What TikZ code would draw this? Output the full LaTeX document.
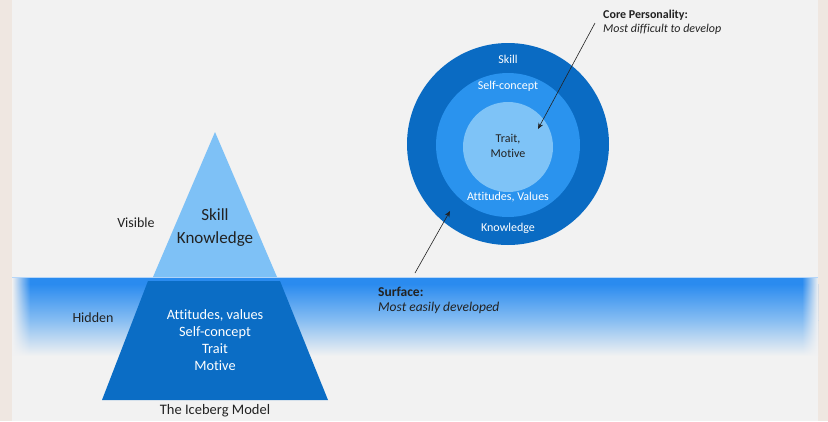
\documentclass[tikz,border=0pt]{standalone}
\usepackage{fontspec}
\setmainfont[Ligatures={NoCommon}]{Carlito}
\usetikzlibrary{fadings,arrows.meta}

\definecolor{bg}{HTML}{F2F2F2}
\definecolor{edgetone}{HTML}{EFE7E1}
\definecolor{seatop}{HTML}{2A8BEF}
\definecolor{seamid}{HTML}{86BDF2}
\definecolor{icelight}{HTML}{7EC1F6}
\definecolor{icedeep}{HTML}{0B6DC5}
\definecolor{ringout}{HTML}{0A6BC3}
\definecolor{ringmid}{HTML}{2A93EE}
\definecolor{ringin}{HTML}{7EC3F7}
\definecolor{ink}{HTML}{222222}

\tikzset{
  x=1pt, y=-1pt,
  label/.style={text=ink, font=\fontsize{14}{17}\selectfont, align=center, inner sep=0pt},
  icetext/.style={text=white, align=center, inner sep=0pt},
  ringtext/.style={text=white, font=\fontsize{12}{14}\selectfont, inner sep=0pt},
  pointer/.style={draw=ink, line width=0.6pt, -{Stealth[length=6pt,width=5pt]}},
}

\begin{document}
\begin{tikzpicture}
  \useasboundingbox (0,0) rectangle (828,421);
  % background and frame edges
  \fill[bg] (0,0) rectangle (828,421);
  \fill[edgetone] (0,0) rectangle (12,421);
  \fill[edgetone] (818,0) rectangle (828,421);

  % water band below the surface line
  \fill[seatop] (12,278) rectangle (818,284);
  \shade[top color=seatop, bottom color=seamid] (12,284) rectangle (818,320);
  \shade[top color=seamid, bottom color=bg] (12,320) rectangle (818,356);
  \fill[bg, path fading=east] (12,276) rectangle (30,358);
  \fill[bg, path fading=west] (802,276) rectangle (818,358);
  \draw[white!65!seatop, line width=0.8pt] (12,277.5) -- (818,277.5);

  % iceberg: visible tip and hidden body
  \fill[icelight] (215,132) -- (277,277) -- (153,277) -- cycle;
  \fill[icedeep] (148,281) -- (280,281) -- (328,400) -- (102,400) -- cycle;

  \node[icetext, text=ink, font=\fontsize{17}{23}\selectfont] (tip) at (215,228) {Skill\\Knowledge};
  \node[icetext, font=\fontsize{14.3}{17}\selectfont] (body) at (215,340) {Attitudes, values\\Self-concept\\Trait\\Motive};
  \node[label] (visible) at (136,223) {Visible};
  \node[label] (hidden) at (93,318) {Hidden};
  \node[label, font=\fontsize{14.5}{17}\selectfont] (title) at (215,411) {The Iceberg Model};

  % concentric rings
  \fill[ringout] (508,144) circle (101);
  \fill[ringmid] (508,145) circle (72);
  \fill[ringin] (508,147) circle (45);

  \node[ringtext] (skill) at (508,59) {Skill};
  \node[ringtext] (selfc) at (508,86) {Self-concept};
  \node[label, font=\fontsize{12}{15}\selectfont] (core) at (508,146) {Trait,\\Motive};
  \node[ringtext] (attit) at (508,197) {Attitudes, Values};
  \node[ringtext] (knowl) at (508,228) {Knowledge};

  % annotations
  \node[label, font=\fontsize{12}{14}\selectfont, align=left, anchor=west] (corelbl) at (603,22)
    {\textbf{Core Personality:}\\\textit{Most difficult to develop}};
  \node[label, font=\fontsize{13.5}{15.5}\selectfont, align=left, anchor=west] (surflbl) at (378,300.5)
    {\textbf{Surface:}\\\textit{Most easily developed}};

  \coordinate (coreTail) at (595,23);
  \coordinate (coreHead) at (538,129);
  \coordinate (surfTail) at (415,273);
  \coordinate (surfHead) at (450,211);
  \draw[pointer] (coreTail) -- (coreHead);
  \draw[pointer] (surfTail) -- (surfHead);
\end{tikzpicture}
\end{document}
